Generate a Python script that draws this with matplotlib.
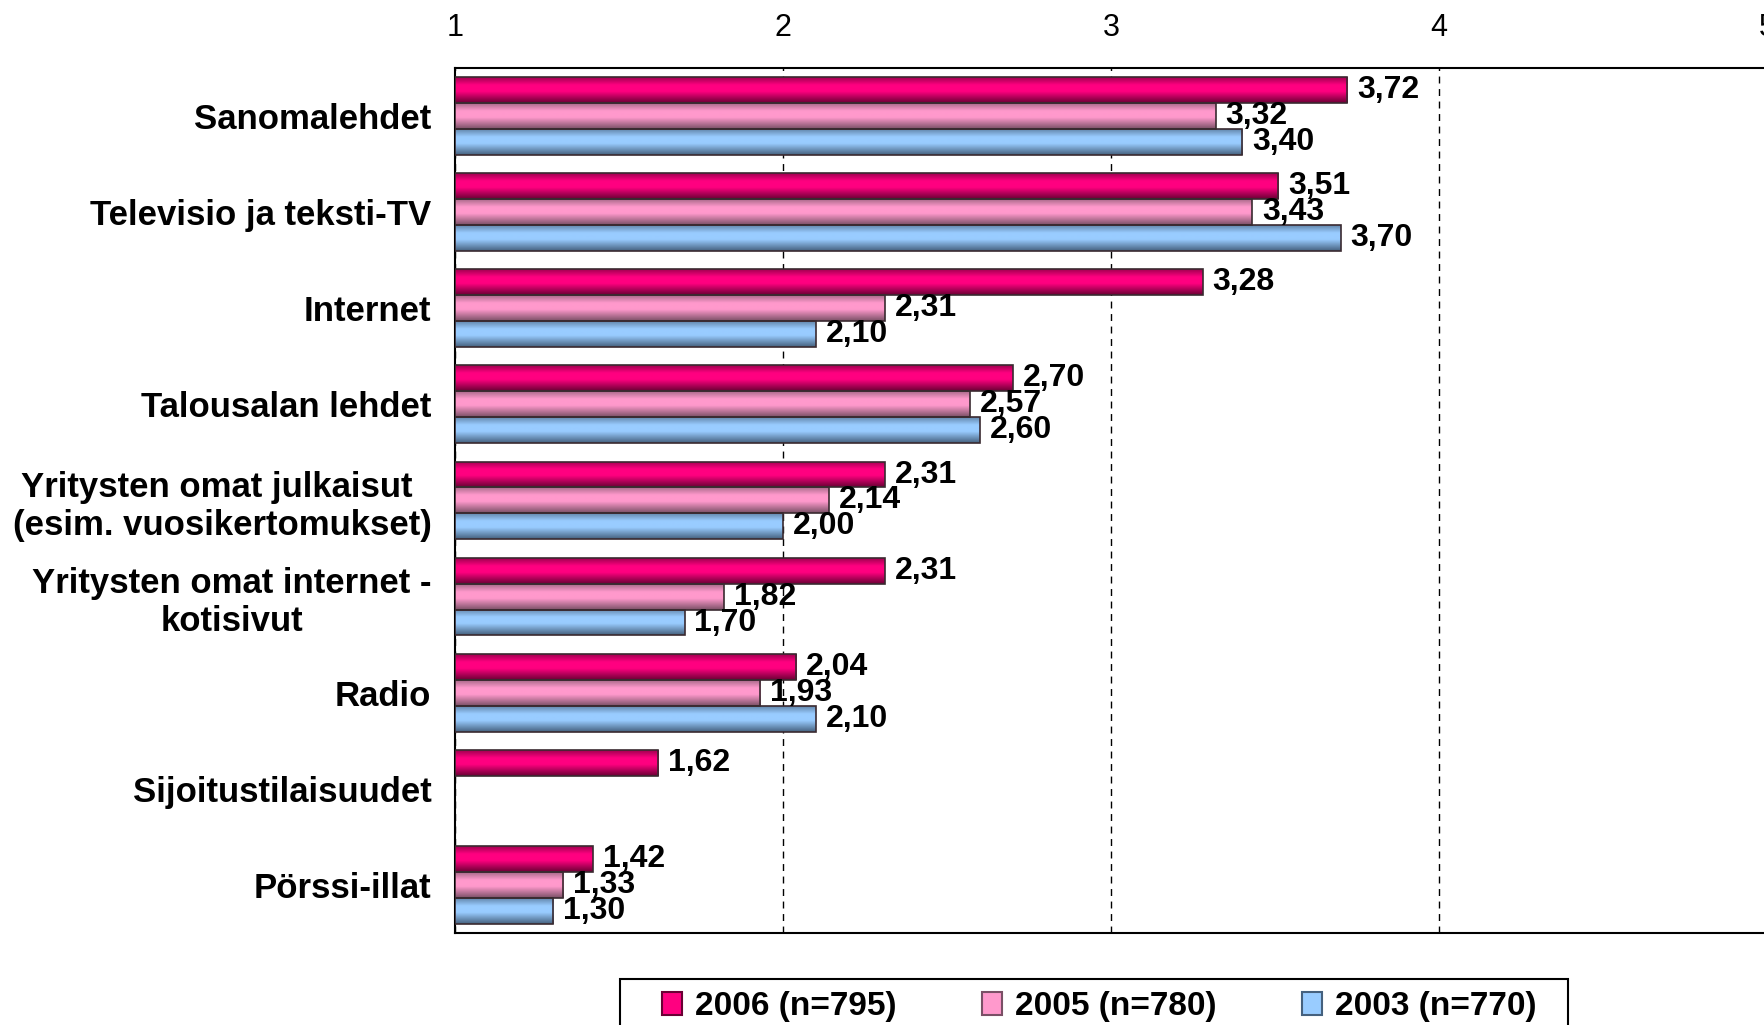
import matplotlib.pyplot as plt
import numpy as np
from matplotlib.patches import Patch, Rectangle

plt.rcParams["font.family"] = ["Liberation Sans", "DejaVu Sans"]

# data
categories = [
    "Sanomalehdet",
    "Televisio ja teksti-TV",
    "Internet",
    "Talousalan lehdet",
    "Yritysten omat julkaisut \n(esim. vuosikertomukset)",
    "Yritysten omat internet -\nkotisivut",
    "Radio",
    "Sijoitustilaisuudet",
    "Pörssi-illat",
]
series_names = ["2006 (n=795)", "2005 (n=780)", "2003 (n=770)"]
v2006 = [3.72, 3.51, 3.28, 2.70, 2.31, 2.31, 2.04, 1.62, 1.42]
v2005 = [3.32, 3.43, 2.31, 2.57, 2.14, 1.82, 1.93, np.nan, 1.33]
v2003 = [3.40, 3.70, 2.10, 2.60, 2.00, 1.70, 2.10, np.nan, 1.30]
x_ticks = [1, 2, 3, 4, 5]

# colours: (dark edge of cylinder, bright middle)
shades = [
    ("#6a0034", "#ff0080"),
    ("#7a5066", "#ff99cc"),
    ("#45617e", "#99ccff"),
]


def to_rgb(h):
    h = h.lstrip("#")
    return np.array([int(h[i:i + 2], 16) / 255 for i in (0, 2, 4)])


def shade_bar(ax, patch, dark, light):
    # cylinder look: a bit dark on top, bright band, dark towards the bottom
    t = np.linspace(0, 1, 80)
    prof = np.interp(t, [0, 0.3, 0.55, 1], [0.35, 1, 1, 0.0])
    d, l = to_rgb(dark), to_rgb(light)
    img = (d + (l - d) * prof[:, None])[:, None, :]
    x0, y0 = patch.get_x(), patch.get_y()
    h = patch.get_height()
    im = ax.imshow(img, extent=(x0, x0 + patch.get_width(), y0 + h, y0),
                   aspect="auto", interpolation="bilinear", zorder=3)
    im.set_clip_path(patch)


fig = plt.figure(figsize=(17.65, 10.25), dpi=100)
ax = fig.add_axes([0.2578, 0.0898, 0.7433, 0.8439])

base = x_ticks[0]
bh = 0.27
y = np.arange(len(categories))
for k, vals in enumerate([v2006, v2005, v2003]):
    vals = np.array(vals)
    bars = ax.barh(y + (k - 1) * bh, vals - base, left=base, height=bh,
                   facecolor="none", edgecolor="#3a2a30", linewidth=1.2, zorder=4)
    for p, v in zip(bars.patches, vals):
        if np.isnan(v):
            continue
        shade_bar(ax, p, *shades[k])
        ax.text(v + 0.03, p.get_y() + p.get_height() / 2, f"{v:.2f}".replace(".", ","),
                ha="left", va="center", fontsize=23, fontweight="bold", zorder=5)

ax.set_xlim(x_ticks[0], x_ticks[-1])
ax.set_ylim(len(categories) - 0.5, -0.5)
ax.xaxis.tick_top()
ax.set_xticks(x_ticks)
ax.tick_params(axis="x", length=0, pad=18, labelsize=22)
ax.set_yticks(y, categories)
ax.tick_params(axis="y", length=0, pad=17, labelsize=25)
for lbl in ax.get_yticklabels():
    lbl.set_fontweight("bold")
    lbl.set_multialignment("center")
    lbl.set_linespacing(1.18)

ax.grid(axis="x", color="black", linestyle=(0, (5, 4)), linewidth=1)
ax.set_axisbelow(True)
for s in ax.spines.values():
    s.set_color("black")
    s.set_linewidth(1.5)

# legend: box drawn separately, entries placed inside it
fig.add_artist(Rectangle((620 / 1765, -0.05), 948 / 1765, 0.05 + 46 / 1025,
                         transform=fig.transFigure, fill=False, edgecolor="black", linewidth=1.5))
handles = [Patch(facecolor=light, edgecolor=dark, linewidth=1.5) for dark, light in shades]
fig.legend(handles, series_names, loc="upper left", bbox_to_anchor=(662 / 1765, 1 - 991 / 1025),
           ncol=3, frameon=False, borderpad=0, borderaxespad=0,
           handlelength=0.6, handleheight=0.66, handletextpad=0.4, columnspacing=2.55,
           prop={"size": 24, "weight": "bold"})

fig.savefig("out.png", dpi=100)
